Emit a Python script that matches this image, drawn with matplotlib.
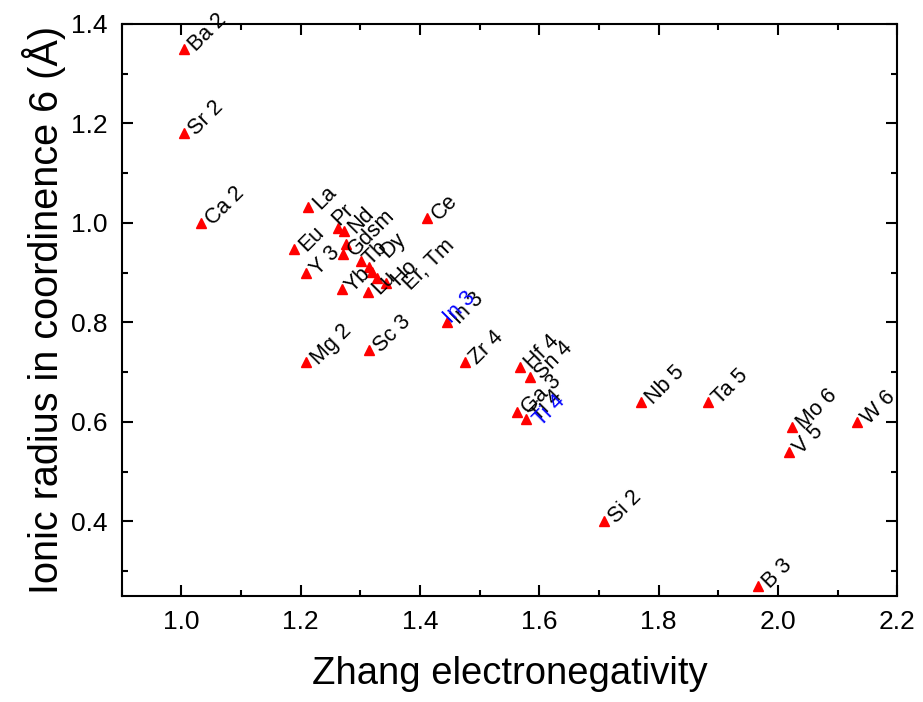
import numpy as np
import matplotlib.pyplot as plt
from matplotlib.ticker import MultipleLocator

plt.rcParams['font.family'] = ['Liberation Sans', 'DejaVu Sans']

# Zhang electronegativity vs ionic radius (CN 6)
labels = ['Ba 2', 'Sr 2', 'Ca 2', 'La', 'Eu', 'Y 3', 'Pr', 'Nd', 'Sm', 'Gdsm',
          'Tb', 'Dy', 'Ho', 'Er, Tm', 'Tm', 'Lu', 'Yb', 'Ce', 'In 3', 'Mg 2',
          'Sc 3', 'Zr 4', 'Hf 4', 'Sn 4', 'Ga 3', 'Ti 4', 'Si 2', 'Nb 5',
          'Ta 5', 'Mo 6', 'V 5', 'W 6', 'B 3']
en = [1.004, 1.004, 1.033, 1.212, 1.189, 1.209, 1.262, 1.272, 1.276, 1.271,
      1.301, 1.314, 1.319, 1.328, 1.343, 1.313, 1.269, 1.412, 1.445, 1.209,
      1.314, 1.476, 1.568, 1.585, 1.563, 1.578, 1.709, 1.771,
      1.882, 2.024, 2.019, 2.133, 1.967]
radius = [1.35, 1.18, 1.00, 1.032, 0.947, 0.900, 0.99, 0.983, 0.958, 0.938,
          0.923, 0.912, 0.901, 0.89, 0.88, 0.861, 0.868, 1.01, 0.80, 0.72,
          0.745, 0.72, 0.71, 0.69, 0.62, 0.605, 0.40, 0.64,
          0.64, 0.59, 0.54, 0.60, 0.27]
# points that carry no own label (shared label)
hidden = ['Sm', 'Tm']
# extra blue labels
blue_labels = ['In 3', 'Ti 4']

# label offsets in pixels (dx, dy)
offsets = {'Pr': (2, 2), 'Dy': (19, 8), 'Ho': (27, -14), 'Er, Tm': (34, -13),
           'Tb': (10, -5), 'Lu': (11, -3), 'Yb': (11, -4)}
blue_offsets = {'In 3': (4, -2), 'Ti 4': (15, -8)}

fig = plt.figure(figsize=(9.23, 7.02), dpi=100)
ax = fig.add_axes([0.132, 0.151, 0.840, 0.815])

ax.plot(en, radius, '^', color='red', markersize=7, linestyle='none')

for lab, x, y in zip(labels, en, radius):
    if lab in hidden:
        continue
    dx, dy = offsets.get(lab, (12, -3))
    ax.annotate(lab, (x, y), xytext=(dx, dy), textcoords='offset pixels',
                rotation=45, rotation_mode='anchor', ha='left', va='baseline',
                fontsize=15.5, color='black')
    if lab in blue_labels:
        dx, dy = blue_offsets[lab]
        ax.annotate(lab, (x, y), xytext=(dx, dy), textcoords='offset pixels',
                    rotation=45, rotation_mode='anchor', ha='left', va='baseline',
                    fontsize=15.5, color='blue')

ax.set_xlim(0.9, 2.2)
ax.set_ylim(0.25, 1.4)
ax.xaxis.set_minor_locator(MultipleLocator(0.1))
ax.yaxis.set_minor_locator(MultipleLocator(0.1))
ax.set_xticks(np.arange(1.0, 2.21, 0.2))
ax.set_yticks(np.arange(0.4, 1.41, 0.2))
ax.xaxis.set_major_formatter(plt.FormatStrFormatter('%.1f'))
ax.yaxis.set_major_formatter(plt.FormatStrFormatter('%.1f'))
ax.tick_params(which='both', direction='in', top=True, right=True, width=1.5,
               labelsize=19, pad=10)
ax.tick_params(which='major', length=8)
ax.tick_params(which='minor', length=4)
for s in ax.spines.values():
    s.set_linewidth(1.5)

ax.set_xlabel('Zhang electronegativity', fontsize=27.5, labelpad=16)
ax.set_ylabel('Ionic radius in coordinence 6 (Å)', fontsize=28.5, labelpad=4)

plt.savefig('out.png', dpi=100)
